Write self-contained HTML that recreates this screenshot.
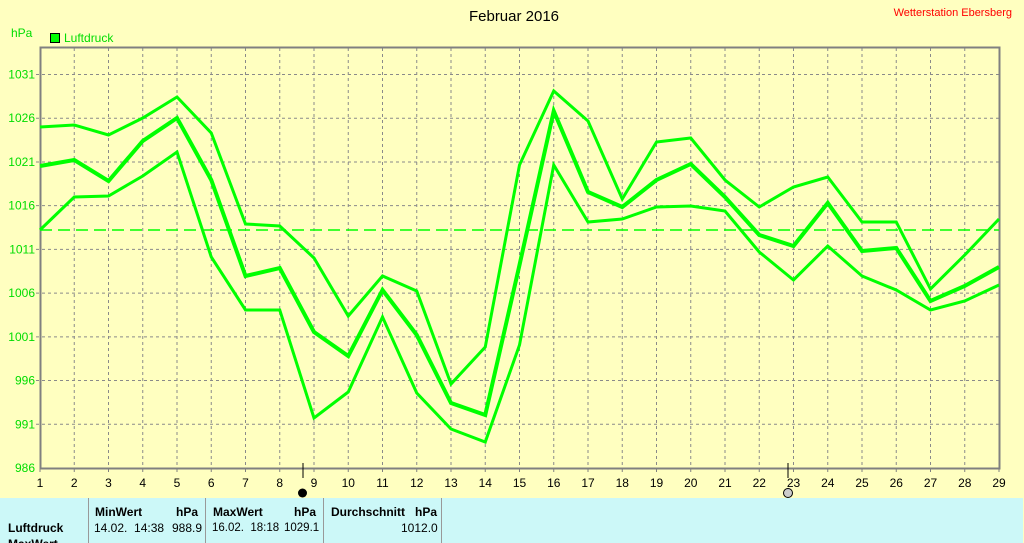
<!DOCTYPE html>
<html><head><meta charset="utf-8"><style>
html,body{margin:0;width:1024px;height:543px;overflow:hidden}
body{background:#ffffc0;font-family:"Liberation Sans",sans-serif;position:relative}
.t{position:absolute;font-size:12px;white-space:nowrap;line-height:14px}
</style></head><body>
<svg width="1024" height="543" style="position:absolute;left:0;top:0" font-family="Liberation Sans, sans-serif">
<g stroke="#8a8a8a" stroke-dasharray="3,3" stroke-width="1" id="g"></g>
<rect x="40.5" y="47.5" width="959" height="421" fill="none" stroke="#808080" stroke-width="2"/>
<line x1="40" y1="230" x2="999" y2="230" stroke="#00ff00" stroke-width="1.5" stroke-dasharray="12,6"/>
<polyline id="a" fill="none" stroke="#00ff00" stroke-width="3"/>
<polyline id="b" fill="none" stroke="#00ff00" stroke-width="4"/>
<polyline id="c" fill="none" stroke="#00ff00" stroke-width="3"/>
<line x1="303" y1="463" x2="303" y2="478" stroke="#000"/>
<line x1="788" y1="463" x2="788" y2="478" stroke="#000"/>
<circle cx="302.5" cy="493" r="4.5" fill="#000"/>
<circle cx="788" cy="493" r="4.5" fill="#ccc" stroke="#000"/>
<text x="514" y="21" font-size="15" text-anchor="middle">Februar 2016</text>
<text x="1012" y="16" font-size="11" text-anchor="end" fill="#ff0000">Wetterstation Ebersberg</text>
<text x="11" y="37" font-size="12" fill="#00dd00">hPa</text>
<rect x="50.5" y="33.5" width="9" height="9" fill="#00ff00" stroke="#000"/>
<text x="64" y="42" font-size="12" fill="#00dd00">Luftdruck</text>
<g id="yl" font-size="12" fill="#00dd00" text-anchor="end"></g>
<g id="xl" font-size="12" fill="#000" text-anchor="middle"></g>
</svg>
<div style="position:absolute;left:0;top:498px;width:1023px;height:45px;background:#ccf8f8;overflow:hidden">
<div style="position:absolute;left:88px;top:0;width:1px;height:45px;background:#999"></div>
<div style="position:absolute;left:205px;top:0;width:1px;height:45px;background:#999"></div>
<div style="position:absolute;left:323px;top:0;width:1px;height:45px;background:#999"></div>
<div style="position:absolute;left:441px;top:0;width:1px;height:45px;background:#999"></div>
<div class="t" style="left:8px;top:23px;font-weight:bold">Luftdruck</div>
<div class="t" style="left:8px;top:39px;font-weight:bold">MaxWert</div>
<div class="t" style="left:95px;top:7px;font-weight:bold">MinWert</div>
<div class="t" style="left:176px;top:7px;font-weight:bold">hPa</div>
<div class="t" style="left:94px;top:23px">14.02.&nbsp; 14:38</div>
<div class="t" style="left:172px;top:23px">988.9</div>
<div class="t" style="left:213px;top:7px;font-weight:bold">MaxWert</div>
<div class="t" style="left:294px;top:7px;font-weight:bold">hPa</div>
<div class="t" style="left:212px;top:23px;font-size:11.5px">16.02.&nbsp; 18:18</div>
<div class="t" style="left:284px;top:23px;font-size:11.5px">1029.1</div>
<div class="t" style="left:331px;top:7px;font-weight:bold">Durchschnitt&nbsp;&nbsp; hPa</div>
<div class="t" style="left:401px;top:23px">1012.0</div>
</div>
<script>
var ns="http://www.w3.org/2000/svg";
function X(d){return 40+(d-1)*34.25}
function Y(v){return 468-(v-986)*8.744}
var g=document.getElementById('g'),yl=document.getElementById('yl'),xl=document.getElementById('xl');
for(var d=2;d<=28;d++){var l=document.createElementNS(ns,'line');l.setAttribute('x1',X(d));l.setAttribute('x2',X(d));l.setAttribute('y1',48);l.setAttribute('y2',468);g.appendChild(l);}
for(var d=1;d<=29;d++){var t=document.createElementNS(ns,'text');t.setAttribute('x',X(d));t.setAttribute('y',487);t.textContent=d;xl.appendChild(t);
var k=document.createElementNS(ns,'line');k.setAttribute('x1',X(d));k.setAttribute('x2',X(d));k.setAttribute('y1',468);k.setAttribute('y2',472);k.setAttribute('stroke','#808080');k.setAttribute('stroke-dasharray','none');g.appendChild(k);}
for(var v=986;v<=1031;v+=5){var y=Y(v);if(v>986){var l=document.createElementNS(ns,'line');l.setAttribute('x1',36);l.setAttribute('x2',999);l.setAttribute('y1',y);l.setAttribute('y2',y);g.appendChild(l);}
var t=document.createElementNS(ns,'text');t.setAttribute('x',35);t.setAttribute('y',y+4);t.textContent=v;yl.appendChild(t);}
var A=[127,125,135,118,97,133,224,226,258,316,276,291,384,347,165,91,121,199,142,138,180,207,187,177,222,222,289,255,219];
var B=[166,160,181,141,118,180,276,268,332,356,290,335,403,415,265,111,192,207,180,164,197,235,246,203,251,248,301,286,267];
var C=[230,197,196,176,152,257,310,310,418,392,317,393,429,442,345,165,222,219,207,206,211,252,280,246,276,290,310,301,285];
function P(id,a){document.getElementById(id).setAttribute('points',a.map(function(y,i){return X(i+1)+','+y}).join(' '))}
P('a',A);P('b',B);P('c',C);
</script>
</body></html>
